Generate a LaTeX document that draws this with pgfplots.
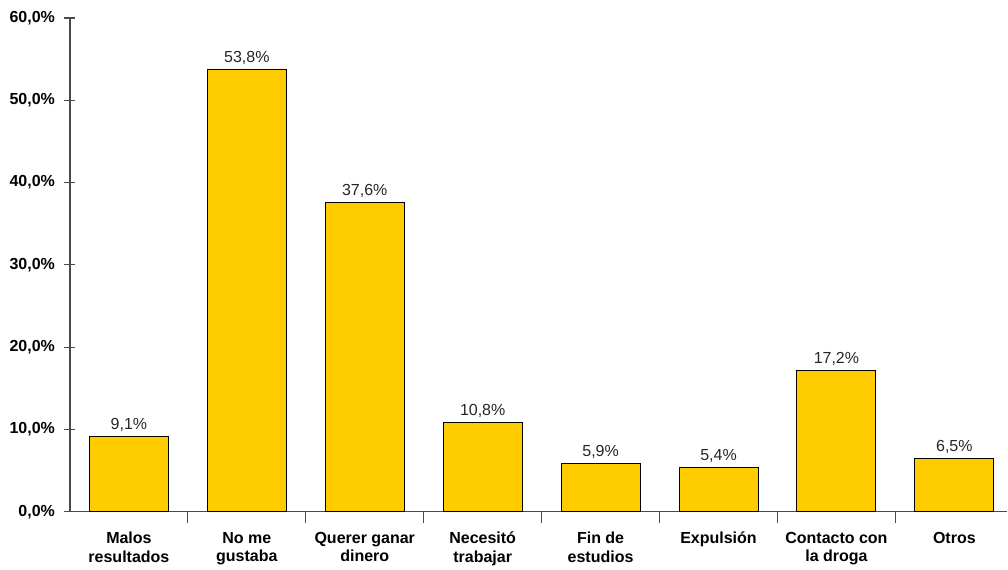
\documentclass[border=0pt]{standalone}
\usepackage{pgfplots}
\pgfplotsset{compat=1.18}
\usepackage{fontspec}
\setmainfont{Liberation Sans}
\definecolor{bargold}{HTML}{FFCC00}
\definecolor{axisgray}{HTML}{4A4A4A}
\begin{document}
\begin{tikzpicture}
\begin{axis}[
  scale only axis,
  width=938pt, height=494pt,
  xmin=-0.5, xmax=7.45,
  ymin=0, ymax=60,
  axis x line*=bottom, axis y line*=left,
  axis line style={axisgray, line width=1.2pt},
  tick align=center,
  xtick={0,...,7},
  xticklabels={{Malos\\resultados},{No me\\gustaba},{Querer ganar\\dinero},{Necesitó\\trabajar},{Fin de\\estudios},{Expulsión},{Contacto con\\la droga},{Otros}},
  xticklabel style={font=\fontsize{16}{18.5}\selectfont\bfseries, align=center, anchor=north, yshift=-6pt},
  major x tick style={draw=none},
  minor xtick={0.5,1.5,...,6.5},
  minor tick length=11pt,
  minor x tick style={axisgray, line width=1.2pt},
  ytick={0,10,...,60},
  major tick length=11pt,
  ytick style={axisgray, line width=1.2pt},
  yticklabel={\textbf{\pgfmathprintnumber[fixed,fixed zerofill,precision=1,use comma]{\tick}\%}},
  yticklabel style={font=\fontsize{16}{18}\selectfont, xshift=-6pt},
  /pgf/number format/assume math mode=true,
  ybar, bar width=0.67,
  nodes near coords={\pgfmathprintnumber[fixed,fixed zerofill,precision=1,use comma]{\pgfplotspointmeta}\%},
  nodes near coords style={font=\fontsize{16}{18}\selectfont, text=black!85, yshift=1pt},
  clip=false,
]
\addplot[fill=bargold, draw=black, line width=0.9pt] coordinates {
  (0,9.1) (1,53.8) (2,37.6) (3,10.8) (4,5.9) (5,5.4) (6,17.2) (7,6.5)
};
\end{axis}
\path ([xshift=-70pt,yshift=-52pt]current axis.south west) rectangle ([yshift=18pt]current axis.north east);
\end{tikzpicture}
\end{document}
